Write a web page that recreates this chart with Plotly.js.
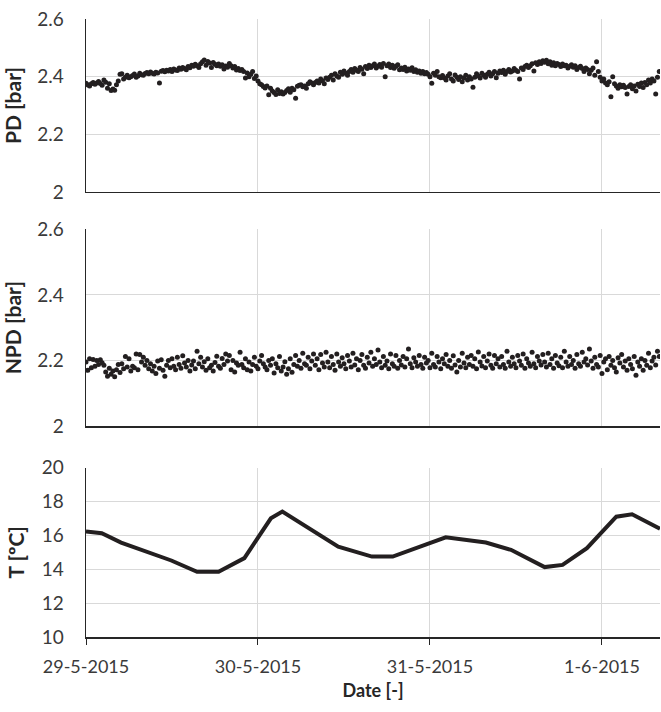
<!DOCTYPE html>
<html>
<head>
<meta charset="utf-8">
<script src="https://cdn.plot.ly/plotly-3.0.1.min.js"></script>
<style>html,body{margin:0;padding:0;background:#fff;}#chart{width:661px;height:712px;}</style>
</head>
<body>
<div id="chart"></div>
<script>
// Sampling grid of the pressure logger: start date and step (minutes)
var startDate = '2015-05-29';
var sampleStepMinutes = 15;

// PD [bar] readings, one per sample step
var pdValues = [
2.377,2.372,2.368,2.375,2.380,2.374,2.378,2.383,
2.376,2.370,2.388,2.381,2.360,2.375,2.352,2.357,
2.353,2.372,2.385,2.408,2.410,2.392,2.398,2.405,
2.396,2.400,2.404,2.409,2.398,2.402,2.412,2.407,
2.405,2.411,2.414,2.410,2.416,2.412,2.409,2.415,
2.413,2.378,2.419,2.421,2.417,2.422,2.420,2.425,
2.418,2.427,2.423,2.421,2.430,2.426,2.432,2.428,
2.424,2.435,2.431,2.440,2.436,2.443,2.438,2.432,
2.445,2.452,2.458,2.440,2.453,2.447,2.432,2.449,
2.443,2.438,2.444,2.436,2.441,2.427,2.437,2.433,
2.446,2.438,2.430,2.435,2.423,2.428,2.421,2.425,
2.418,2.395,2.413,2.400,2.408,2.418,2.394,2.402,
2.385,2.375,2.372,2.366,2.361,2.368,2.337,2.360,
2.350,2.345,2.338,2.355,2.342,2.348,2.340,2.345,
2.352,2.358,2.346,2.360,2.355,2.325,2.367,2.370,
2.372,2.365,2.368,2.360,2.375,2.382,2.378,2.372,
2.380,2.385,2.378,2.392,2.386,2.375,2.395,2.390,
2.398,2.405,2.388,2.410,2.402,2.398,2.415,2.408,
2.420,2.412,2.405,2.418,2.425,2.415,2.428,2.422,
2.418,2.432,2.426,2.410,2.435,2.428,2.440,2.432,
2.438,2.444,2.430,2.436,2.442,2.433,2.446,2.400,
2.438,2.444,2.432,2.440,2.429,2.436,2.441,2.424,
2.430,2.425,2.433,2.420,2.427,2.422,2.431,2.418,
2.424,2.415,2.420,2.412,2.418,2.410,2.414,2.408,
2.400,2.377,2.412,2.405,2.418,2.400,2.396,2.404,
2.395,2.388,2.402,2.410,2.392,2.385,2.406,2.398,
2.390,2.400,2.382,2.395,2.405,2.388,2.400,2.392,
2.363,2.398,2.410,2.402,2.395,2.412,2.405,2.398,
2.408,2.415,2.402,2.410,2.418,2.396,2.412,2.420,
2.414,2.422,2.408,2.418,2.425,2.416,2.420,2.428,
2.422,2.418,2.392,2.430,2.425,2.435,2.440,2.432,
2.438,2.445,2.420,2.448,2.442,2.452,2.446,2.455,
2.450,2.457,2.445,2.452,2.440,2.448,2.438,2.446,
2.442,2.435,2.444,2.438,2.440,2.430,2.436,2.441,
2.433,2.438,2.425,2.432,2.436,2.428,2.418,2.430,
2.425,2.410,2.422,2.430,2.405,2.452,2.418,2.398,
2.385,2.392,2.378,2.372,2.382,2.330,2.400,2.375,
2.368,2.360,2.372,2.365,2.370,2.362,2.340,2.366,
2.372,2.358,2.368,2.350,2.374,2.366,2.378,2.362,
2.380,2.372,2.388,2.378,2.392,2.385,2.340,2.398,
2.418
];

// NPD [bar] readings, one per sample step
var npdValues = [
2.195,2.170,2.205,2.178,2.203,2.182,2.200,2.188,
2.202,2.193,2.185,2.165,2.152,2.176,2.158,2.168,
2.150,2.172,2.188,2.163,2.190,2.175,2.212,2.180,
2.205,2.168,2.182,2.178,2.220,2.172,2.218,2.195,
2.210,2.185,2.200,2.175,2.190,2.168,2.182,2.160,
2.198,2.176,2.202,2.170,2.152,2.185,2.200,2.178,
2.205,2.182,2.172,2.210,2.188,2.176,2.214,2.192,
2.180,2.200,2.168,2.186,2.198,2.175,2.228,2.190,
2.210,2.180,2.196,2.170,2.205,2.178,2.185,2.168,
2.194,2.213,2.182,2.176,2.206,2.188,2.220,2.198,
2.215,2.172,2.200,2.165,2.192,2.185,2.225,2.188,
2.178,2.205,2.172,2.195,2.168,2.188,2.210,2.182,
2.175,2.198,2.215,2.190,2.180,2.172,2.200,2.185,
2.205,2.162,2.190,2.178,2.212,2.168,2.180,2.196,
2.158,2.175,2.205,2.164,2.188,2.215,2.182,2.200,
2.176,2.222,2.190,2.185,2.210,2.175,2.198,2.220,
2.185,2.205,2.172,2.218,2.192,2.180,2.225,2.195,
2.178,2.212,2.188,2.170,2.220,2.195,2.182,2.208,
2.190,2.175,2.215,2.198,2.180,2.222,2.186,2.205,
2.172,2.200,2.218,2.185,2.176,2.210,2.192,2.225,
2.182,2.205,2.188,2.232,2.195,2.178,2.212,2.185,
2.198,2.175,2.220,2.190,2.182,2.215,2.176,2.200,
2.186,2.212,2.180,2.205,2.235,2.190,2.178,2.208,
2.195,2.182,2.215,2.188,2.176,2.210,2.192,2.200,
2.178,2.222,2.188,2.180,2.212,2.195,2.175,2.205,
2.190,2.218,2.182,2.200,2.176,2.214,2.186,2.165,
2.200,2.180,2.222,2.192,2.178,2.210,2.188,2.215,
2.182,2.205,2.175,2.226,2.195,2.183,2.212,2.178,
2.198,2.220,2.185,2.176,2.215,2.190,2.205,2.180,
2.212,2.188,2.176,2.228,2.195,2.182,2.210,2.190,
2.178,2.215,2.198,2.185,2.220,2.176,2.205,2.192,
2.182,2.225,2.190,2.178,2.212,2.198,2.186,2.218,
2.195,2.180,2.222,2.188,2.205,2.176,2.215,2.192,
2.184,2.210,2.178,2.228,2.195,2.182,2.212,2.188,
2.200,2.176,2.218,2.190,2.182,2.225,2.195,2.205,
2.186,2.235,2.198,2.176,2.210,2.188,2.180,2.215,
2.160,2.195,2.205,2.172,2.212,2.185,2.200,2.178,
2.165,2.208,2.192,2.218,2.180,2.198,2.170,2.205,
2.188,2.175,2.212,2.155,2.195,2.182,2.205,2.170,
2.200,2.185,2.222,2.178,2.198,2.210,2.186,2.228,
2.212
];

// Temperature: hours after start and T [°C]
var tempHours = [0, 2.2, 4.9, 11.9, 15.5, 18.5, 22.1, 25.8, 27.4, 35.2, 39.9, 42.8, 50.2, 55.8, 59.3, 64.0, 66.5, 69.9, 74.0, 76.2, 80.1];
var tempValues = [16.23, 16.13, 15.58, 14.52, 13.85, 13.85, 14.66, 17.01, 17.41, 15.34, 14.75, 14.75, 15.89, 15.58, 15.15, 14.13, 14.26, 15.25, 17.11, 17.25, 16.39];

// Axis ticks
var dateTickVals = ['2015-05-29', '2015-05-30', '2015-05-31', '2015-06-01'];
var dateTickText = ['29-5-2015', '30-5-2015', '31-5-2015', '1-6-2015'];
var xRangeHours = [0, 80.1];
var pressTickVals = [2, 2.2, 2.4, 2.6];
var pressTickText = ['2', '2.2', '2.4', '2.6'];
var tempTickVals = [10, 12, 14, 16, 18, 20];
var tempTickText = ['10', '12', '14', '16', '18', '20'];

function pad(n){ return (n < 10 ? '0' : '') + n; }
function hoursToDate(h){
  var base = new Date(startDate + 'T00:00:00Z').getTime();
  var d = new Date(base + Math.round(h * 3600000));
  return d.getUTCFullYear() + '-' + pad(d.getUTCMonth()+1) + '-' + pad(d.getUTCDate()) + ' ' +
         pad(d.getUTCHours()) + ':' + pad(d.getUTCMinutes()) + ':' + pad(d.getUTCSeconds());
}
var sampleTimes = pdValues.map(function(_, i){ return hoursToDate(i * sampleStepMinutes / 60); });
var tempTimes = tempHours.map(hoursToDate);
var xRange = xRangeHours.map(hoursToDate);

var ink = '#231f20';
var fontFam = 'Lato, "Open Sans", "DejaVu Sans", sans-serif';
var xTickFont = {family: fontFam, size: 18, color: '#3a3a3a'};
var yTickFont = {family: fontFam, size: 19, color: '#3a3a3a'};
var xTitleFont = {family: fontFam, size: 18, color: '#262626'};
var yTitleFont = {family: fontFam, size: 21, color: '#262626'};
var gridCol = '#d9d9d9';
var lineCol = '#262626';

var traces = [
  {x: sampleTimes, y: pdValues, type: 'scatter', mode: 'markers', xaxis: 'x', yaxis: 'y',
   marker: {size: 5, color: ink}},
  {x: sampleTimes, y: npdValues, type: 'scatter', mode: 'markers', xaxis: 'x2', yaxis: 'y2',
   marker: {size: 5, color: ink}},
  {x: tempTimes, y: tempValues, type: 'scatter', mode: 'lines', xaxis: 'x3', yaxis: 'y3',
   line: {width: 4, color: ink}}
];

function xAx(anchor, bottom){
  var a = {anchor: anchor, type: 'date', range: xRange, tickmode: 'array', tickvals: dateTickVals,
    ticktext: dateTickText, showgrid: true, gridcolor: gridCol, gridwidth: 1, showline: true,
    linecolor: lineCol, linewidth: 1.5, zeroline: false, tickfont: xTickFont, fixedrange: true};
  if (bottom) {
    a.ticks = 'outside'; a.ticklen = 6; a.tickcolor = lineCol; a.tickwidth = 1;
    a.showticklabels = true; a.ticklabelstandoff = 7;
    a.title = {text: '<b>Date [-]</b>', font: xTitleFont, standoff: 8};
  } else {
    a.ticks = ''; a.showticklabels = false;
  }
  return a;
}
function yAx(anchor, dom, rng, tv, tt, title){
  return {anchor: anchor, domain: dom, range: rng, tickmode: 'array', tickvals: tv, ticktext: tt,
    showgrid: true, gridcolor: gridCol, gridwidth: 1, showline: true, linecolor: lineCol, linewidth: 1.5,
    zeroline: false, ticks: '', ticklabelstandoff: 17, tickfont: yTickFont, fixedrange: true,
    title: {text: '<b>' + title + '</b>', font: yTitleFont, standoff: 11}};
}

var layout = {
  width: 661, height: 712,
  margin: {l: 86, r: 1, t: 19, b: 75},
  paper_bgcolor: '#ffffff', plot_bgcolor: '#ffffff',
  showlegend: false,
  xaxis: xAx('y', false),
  xaxis2: xAx('y2', false),
  xaxis3: xAx('y3', true),
  yaxis: yAx('x', [0.7201, 1], [2, 2.6], pressTickVals, pressTickText, 'PD [bar]'),
  yaxis2: yAx('x2', [0.3414, 0.6597], [2, 2.6], pressTickVals, pressTickText, 'NPD [bar]'),
  yaxis3: yAx('x3', [0, 0.2739], [10, 20], tempTickVals, tempTickText, 'T [ºC]')
};

Plotly.newPlot('chart', traces, layout, {displayModeBar: false, staticPlot: true});
</script>
</body>
</html>
